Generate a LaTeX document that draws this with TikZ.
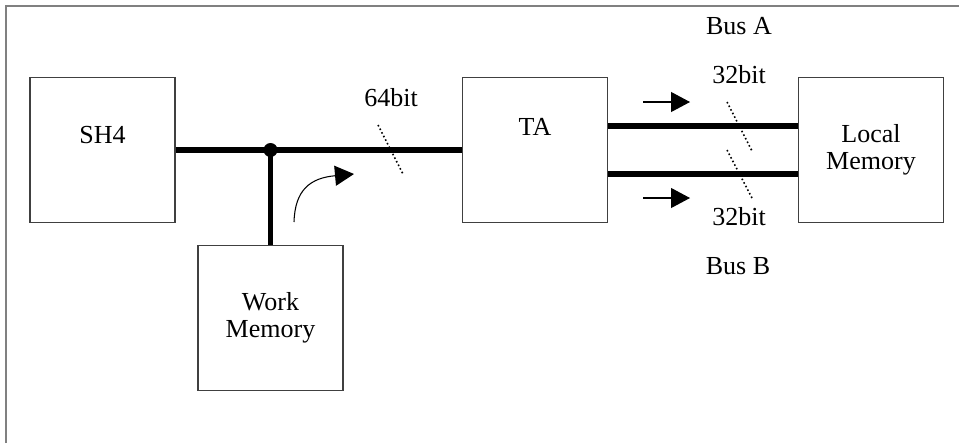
\documentclass[tikz,border=0pt]{standalone}
\usepackage{fontspec}
\setmainfont{Liberation Serif}
\usetikzlibrary{arrows.meta, positioning}

\begin{document}
\begin{tikzpicture}[x=0.02cm, y=-0.02cm,
  every node/.style={font=\fontsize{14.8}{15.4}\selectfont},
  unit/.style={draw=black!75, line width=0.6pt, minimum width=2.9cm, minimum height=2.9cm, align=center, inner sep=0pt},
  bus/.style={line width=3.2pt},
  cut/.style={dash pattern=on 0.9pt off 1.4pt, line width=0.9pt},
  flow/.style={line width=0.6pt, -{Triangle[length=0.38cm, width=0.4cm]}}]
\def\busgap{0.48cm}

\useasboundingbox (0,0) rectangle (959,443);
\draw[gray, line width=0.6pt] (6,443) -- (6,6) -- (959,6);

% units
\node[unit, label={[yshift=0.3cm]center:SH4}] (sh4) at (102.5,150) {};
\node[unit] (wm) at (270.5,318) {Work\\Memory};
\node[unit, label={[yshift=0.46cm]center:TA}] (ta) at (535,150) {};
\node[unit] (lm) at (871,150) {Local\\Memory};

% buses
\coordinate (tap) at (wm.north |- sh4.east);
\draw[bus] (sh4.east) -- (ta.west);
\draw[bus] (wm.north) -- (tap);
\fill (tap) circle[radius=0.14cm];
\draw[bus] ([yshift=\busgap]ta.east) -- ([yshift=\busgap]lm.west);
\draw[bus] ([yshift=-\busgap]ta.east) -- ([yshift=-\busgap]lm.west);

% widths
\draw[cut] (378,125) -- (403,174);
\draw[cut] (727,102) -- (752,151);
\draw[cut] (727,150) -- (752,198);
\node (w64) at (391,98) {64bit};
\node (busa) at (739,26) {Bus A};
\node (wa) at (739,75) {32bit};
\node (wb) at (739,217) {32bit};
\node (busb) at (738,266) {Bus B};

% directions
\draw[flow] (643,102) -- (690,102);
\draw[flow] (643,198) -- (690,198);
\draw[flow] (294,222) .. controls (295,190) and (310,178) .. (354,174);

\end{tikzpicture}
\end{document}
